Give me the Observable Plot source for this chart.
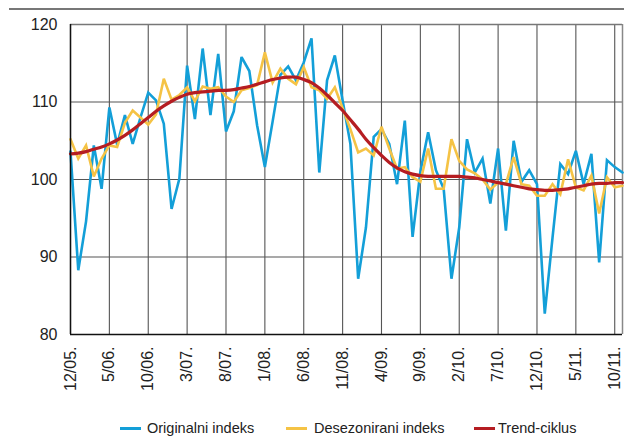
<!DOCTYPE html>
<html>
<head>
<meta charset="utf-8">
<script src="https://cdn.jsdelivr.net/npm/d3@7"></script>
<script src="https://cdn.jsdelivr.net/npm/@observablehq/plot@0.6"></script>
<style>
  html, body { margin: 0; padding: 0; background: #fff; }
  #wrap { position: relative; width: 624px; height: 436px; font-family: "Liberation Sans", Arial, sans-serif; color: #222; }
  #toprule { position: absolute; left: 9px; top: 8px; width: 615px; height: 0; border-top: 2px solid #777; }
  #chart { position: absolute; left: 0; top: 0; }
  .lg { position: absolute; top: 419px; height: 18px; line-height: 18px; font-size: 14.5px; white-space: nowrap; }
  .sw { position: absolute; top: 427px; height: 3px; }
</style>
</head>
<body>
<div id="wrap">
  <div id="chart"></div>
  <div id="toprule"></div>
</div>
<script>
// Month index 0 = 12/05 ... 71 = 11/11
const tickIndex = [0, 5, 10, 15, 20, 25, 30, 35, 40, 45, 50, 55, 60, 65, 70];
const tickLabels = ["12/05.", "5/06.", "10/06.", "3/07.", "8/07.", "1/08.", "6/08.", "11/08.", "4/09.", "9/09.", "2/10.", "7/10.", "12/10.", "5/11.", "10/11."];
const yTicks = [80, 90, 100, 110, 120];

const seriesNames = ["Originalni indeks", "Desezonirani indeks", "Trend-ciklus"];
const seriesColors = ["#139fd8", "#f5c345", "#b51d22"];

const original = [
  103.6, 88.3, 94.6, 104.4, 98.8, 109.3, 104.5, 108.3, 104.6, 108.0,
  111.2, 110.2, 107.2, 96.2, 100.1, 114.7, 107.8, 116.9, 108.3, 116.2,
  106.2, 108.8, 115.8, 114.0, 107.0, 101.6, 107.5, 113.5, 114.6, 112.8,
  115.1, 118.2, 100.9, 112.8, 116.0, 110.2, 104.6, 87.2, 93.8, 105.5,
  106.5, 104.6, 99.4, 107.6, 92.6, 101.0, 106.1, 101.2, 98.8, 87.2,
  93.8, 105.2, 100.9, 102.7, 96.9, 104.0, 93.4, 105.0, 99.7, 101.2,
  99.4, 82.7, 92.5, 102.0, 100.7, 103.7, 99.4, 103.3, 89.3, 102.5,
  101.6, 100.9
];
const deseasonalized = [
  105.2, 102.7, 104.4, 100.4, 102.7, 104.4, 104.2, 107.3, 108.9, 108.0,
  107.1, 108.4, 113.0, 110.3, 110.9, 111.9, 110.1, 112.0, 111.7, 111.9,
  110.7, 110.0, 111.5, 111.8, 112.2, 116.4, 112.5, 114.3, 113.0, 112.3,
  114.5, 111.9, 111.5, 110.4, 111.9, 109.2, 106.5, 103.5, 104.0, 103.1,
  106.8, 104.0, 101.4, 101.6, 100.3, 99.7, 104.0, 98.8, 98.8, 105.2,
  102.4, 101.3, 100.8, 100.0, 98.7, 99.6, 99.4, 102.9, 99.4, 99.2,
  97.9, 97.9, 99.4, 98.1, 102.6, 99.0, 98.6, 100.5, 95.6, 100.3,
  99.0, 99.2
];
const trend = [
  103.3, 103.4, 103.6, 103.9, 104.2, 104.6, 105.1, 105.7, 106.4, 107.2,
  108.0, 108.8, 109.5, 110.1, 110.6, 111.0, 111.2, 111.3, 111.4, 111.5,
  111.5, 111.6, 111.8, 112.0, 112.3, 112.6, 112.9, 113.1, 113.2, 113.2,
  112.9, 112.5, 111.8, 110.9, 109.9, 108.9, 107.7, 106.5, 105.2, 104.1,
  103.1, 102.2, 101.5, 101.0, 100.7, 100.5, 100.4, 100.4, 100.4, 100.4,
  100.4, 100.3, 100.2, 100.0, 99.8, 99.6, 99.4, 99.2, 99.0, 98.8,
  98.7, 98.6, 98.6, 98.7, 98.8, 99.0, 99.2, 99.4, 99.5, 99.5,
  99.6, 99.6
];

const seriesValues = [original, deseasonalized, trend];
const seriesWidths = [2.6, 2.6, 3.2];

const labelOf = new Map(tickIndex.map((t, k) => [t, tickLabels[k]]));

const lineMarks = seriesValues.map((vals, s) =>
  Plot.line(vals.map((v, i) => ({i, v})), {
    x: "i", y: "v",
    stroke: seriesColors[s],
    strokeWidth: seriesWidths[s],
    strokeLinejoin: s === 2 ? "round" : "miter",
    strokeMiterlimit: 3,
    curve: s === 2 ? "catmull-rom" : "linear"
  })
);

const chart = Plot.plot({
  width: 624,
  height: 405,
  marginTop: 24,
  marginBottom: 71,
  marginLeft: 70,
  marginRight: 2,
  style: {fontFamily: "'Liberation Sans', Arial, sans-serif", fontSize: "16px", color: "#222", background: "transparent"},
  x: {domain: [0, 71], label: null},
  y: {domain: [80, 120], label: null},
  marks: [
    Plot.gridX(tickIndex, {stroke: "#555", strokeOpacity: 1, strokeWidth: 1.1}),
    Plot.gridY([90, 100, 110], {stroke: "#555", strokeOpacity: 1, strokeWidth: 1.1}),
    Plot.ruleY([120], {stroke: "#777", strokeWidth: 1.5}),
    Plot.ruleX([71], {stroke: "#888", strokeWidth: 1.5}),
    ...lineMarks,
    Plot.ruleX([0], {stroke: "#111", strokeWidth: 1.5}),
    Plot.ruleY([80], {stroke: "#111", strokeWidth: 1.5}),
    Plot.axisY(yTicks, {tickSize: 0, tickPadding: 13, fontSize: 16, label: null}),
    Plot.axisX(tickIndex, {tickSize: 0, tickPadding: 12, tickRotate: -90, fontSize: 16,
      tickFormat: t => labelOf.get(t), label: null})
  ]
});
document.getElementById("chart").appendChild(chart);

// Legend
const wrap = document.getElementById("wrap");
const legendPos = [[120, 147], [286, 314], [474, 498]];
seriesNames.forEach((name, s) => {
  const sw = document.createElement("div");
  sw.className = "sw";
  sw.style.left = legendPos[s][0] + "px";
  sw.style.width = "21px";
  sw.style.background = seriesColors[s];
  wrap.appendChild(sw);
  const t = document.createElement("div");
  t.className = "lg";
  t.style.left = legendPos[s][1] + "px";
  t.textContent = name;
  wrap.appendChild(t);
});
</script>
</body>
</html>
